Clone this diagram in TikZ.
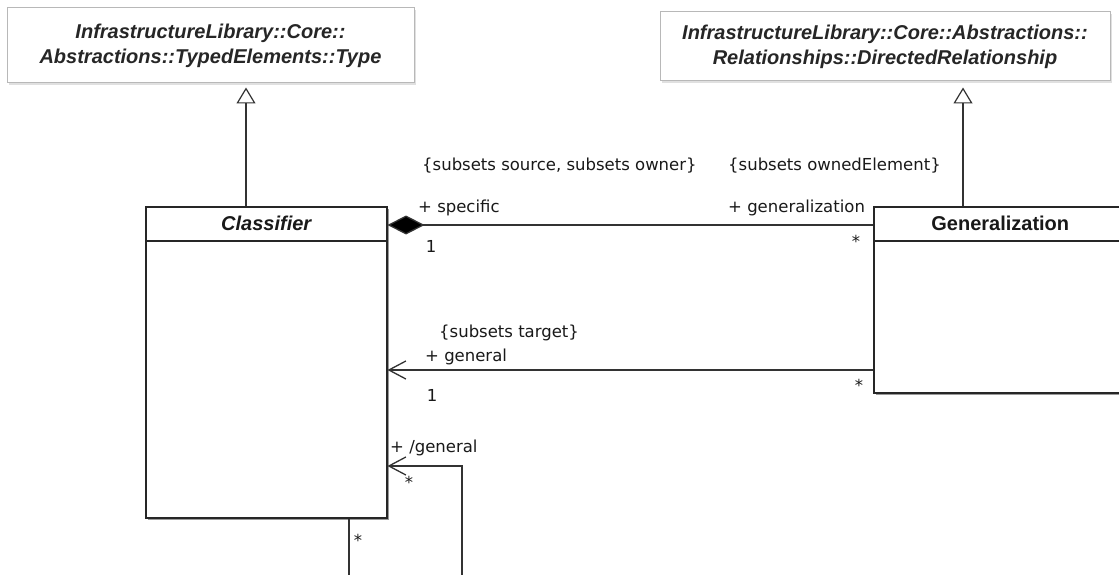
\documentclass[tikz,border=0pt]{standalone}
\usepackage{fontspec}
\setmainfont{DejaVu Sans}
\newfontfamily\ttlfont{Liberation Sans}
\usetikzlibrary{arrows.meta,shadows}
\begin{document}
\begin{tikzpicture}[x=1pt,y=-1pt,
  topbox/.style={draw=black!28, fill=white, line width=1pt,
    drop shadow={shadow xshift=2pt,shadow yshift=-2pt,fill=black!12,opacity=1},
    inner sep=0pt, align=center,
    font=\ttlfont\bfseries\itshape\fontsize{20}{25}\selectfont, text=black!85},
  classbox/.style={draw=black!85, fill=white, line width=1.5pt,
    drop shadow={shadow xshift=2pt,shadow yshift=-2pt,fill=black!40,opacity=1},
    inner sep=0pt, anchor=north west},
  hdr/.style={draw=black!85, line width=1.5pt},
  ttl/.style={font=\ttlfont\bfseries\fontsize{20}{24}\selectfont, inner sep=0pt, text=black!90},
  lbl/.style={font=\fontsize{16.5}{20}\selectfont, inner sep=0pt, anchor=base west, text=black!90},
  mult/.style={lbl, anchor=base},
  conn/.style={draw=black!80, line width=1.3pt},
  inh/.style={conn, -{Triangle[open, length=16pt, width=19pt, line width=1.2pt]}},
  comp/.style={conn, -{Diamond[length=37pt, width=19pt, fill=black]}},
  nav/.style={conn, -{Straight Barb[length=17pt, width=18pt, line width=1.3pt]}}
]
\useasboundingbox (0,0) rectangle (1119,575);
\fill[white] (0,0) rectangle (1119,575);
\clip (0,0) rectangle (1119,575);

% top classes
\node[topbox, minimum width=407pt, minimum height=75pt] (type) at (210.5,45.5)
  {InfrastructureLibrary::Core::\\Abstractions::TypedElements::Type};
\node[topbox, minimum width=450pt, minimum height=69pt] (dir) at (885,46.5)
  {InfrastructureLibrary::Core::Abstractions::\\Relationships::DirectedRelationship};

% Classifier
\node[classbox, minimum width=241pt, minimum height=311pt] (cls) at (145,206) {};
\draw[hdr] ([yshift=-35pt]cls.north west) -- ([yshift=-35pt]cls.north east);
\node[ttl] (clst) at ([yshift=-17.5pt]cls.north) {\itshape Classifier};

% Generalization
\node[classbox, minimum width=253pt, minimum height=186pt] (gen) at (873,206) {};
\draw[hdr] ([yshift=-35pt]gen.north west) -- ([yshift=-35pt]gen.north east);
\node[ttl] (gent) at ([yshift=-17.5pt]gen.north) {Generalization};

% inheritance
\draw[inh] (cls.north -| 246,0) -- ([yshift=-4pt]type.south -| 246,0);
\draw[inh] (gen.north -| 963,0) -- ([yshift=-6pt]dir.south -| 963,0);

% associations
\draw[comp] (gen.west |- 0,225) -- (cls.east |- 0,225);
\draw[nav] (gen.west |- 0,370) -- (cls.east |- 0,370);
\draw[nav] (cls.south -| 349,0) -- (349,600) -- (462,600) -- (462,466) -- (cls.east |- 0,466);

% labels
\node[lbl] (l1) at (422,170) {\{subsets source, subsets owner\}};
\node[lbl] (l2) at (418,212) {+ specific};
\node[mult] (l3) at (431,252) {1};
\node[lbl] (l4) at (728,170) {\{subsets ownedElement\}};
\node[lbl] (l5) at (728,212) {+ generalization};
\node[mult] (l6) at (856,247) {*};
\node[lbl] (l7) at (439,337) {\{subsets target\}};
\node[lbl] (l8) at (425,361) {+ general};
\node[mult] (l9) at (432,401) {1};
\node[mult] (l10) at (859,391) {*};
\node[lbl] (l11) at (390,452) {+ /general};
\node[mult] (l12) at (409,488) {*};
\node[mult] (l13) at (358,546) {*};
\end{tikzpicture}
\end{document}
